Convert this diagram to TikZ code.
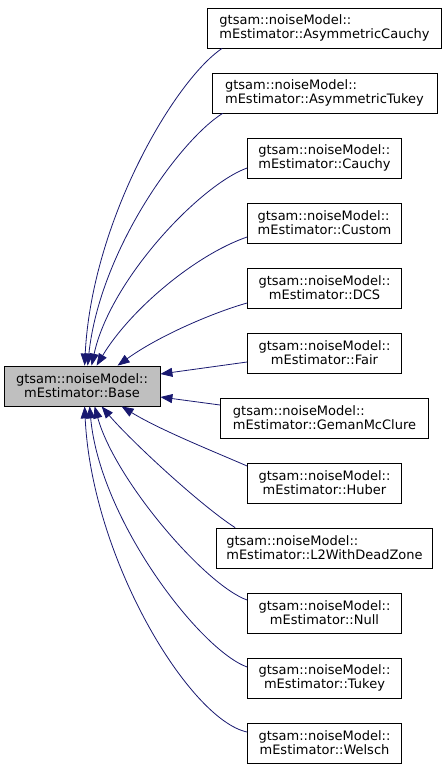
\documentclass[tikz,border=0pt]{standalone}
\usepackage{fontspec}
\setmainfont{DejaVu Sans}
\usetikzlibrary{arrows.meta}
\definecolor{edgecol}{HTML}{191970}
\definecolor{basefill}{HTML}{BFBFBF}
\newsavebox\lbA
\newsavebox\lbB
\newcommand\dlab[2]{\sbox\lbA{#1}\sbox\lbB{#2}\ifdim\wd\lbA<\wd\lbB\makebox[\wd\lbB][l]{#1}\else#1\fi\\#2}
\tikzset{
  cls/.style={draw=black, line width=0.8pt, fill=white, inner sep=0pt, minimum height=40pt, align=center, font=\fontsize{13}{14}\selectfont},
  edge/.style={draw=edgecol, line width=0.8pt, -{Triangle[length=12pt,width=9pt]}},
}
\begin{document}
\begin{tikzpicture}[x=1pt,y=1pt]
\useasboundingbox (0,0) rectangle (447,-771);
\node[cls, fill=basefill, minimum width=156pt] (base) at (82,-386) {\dlab{gtsam::noiseModel::}{mEstimator::Base}};
\node[cls, minimum width=234pt] (ac) at (324.5,-28) {\dlab{gtsam::noiseModel::}{mEstimator::AsymmetricCauchy}};
\node[cls, minimum width=225pt] (at) at (324.5,-93) {\dlab{gtsam::noiseModel::}{mEstimator::AsymmetricTukey}};
\node[cls, minimum width=154pt] (cauchy) at (324.5,-158) {\dlab{gtsam::noiseModel::}{mEstimator::Cauchy}};
\node[cls, minimum width=154pt] (custom) at (324.5,-223) {\dlab{gtsam::noiseModel::}{mEstimator::Custom}};
\node[cls, minimum width=154pt] (dcs) at (324.5,-288) {\dlab{gtsam::noiseModel::}{mEstimator::DCS}};
\node[cls, minimum width=154pt] (fair) at (324.5,-353) {\dlab{gtsam::noiseModel::}{mEstimator::Fair}};
\node[cls, minimum width=208pt] (gmc) at (324.5,-418) {\dlab{gtsam::noiseModel::}{mEstimator::GemanMcClure}};
\node[cls, minimum width=154pt] (huber) at (324.5,-483) {\dlab{gtsam::noiseModel::}{mEstimator::Huber}};
\node[cls, minimum width=216pt] (l2) at (324.5,-548) {\dlab{gtsam::noiseModel::}{mEstimator::L2WithDeadZone}};
\node[cls, minimum width=154pt] (null) at (324.5,-613) {\dlab{gtsam::noiseModel::}{mEstimator::Null}};
\node[cls, minimum width=154pt] (tukey) at (324.5,-678) {\dlab{gtsam::noiseModel::}{mEstimator::Tukey}};
\node[cls, minimum width=154pt] (welsch) at (324.5,-743) {\dlab{gtsam::noiseModel::}{mEstimator::Welsch}};

\draw[edge] ([xshift=15pt]ac.south west) .. controls (175,-80) and (92,-220) .. ([xshift=81pt]base.north west);
\draw[edge] ([xshift=11pt]at.south west) .. controls (180,-140) and (100,-250) .. ([xshift=84pt]base.north west);
\draw[edge] ([yshift=-10pt]cauchy.west) .. controls (200,-185) and (110,-280) .. ([xshift=88pt]base.north west);
\draw[edge] ([yshift=-14pt]custom.west) .. controls (195,-255) and (130,-310) .. ([xshift=93pt]base.north west);
\draw[edge] ([yshift=-15pt]dcs.west) .. controls (215,-312) and (160,-335) .. ([xshift=114pt]base.north west);
\draw[edge] ([yshift=-9pt]fair.west) -- ([yshift=12pt]base.east);
\draw[edge] ([yshift=13pt]gmc.west) -- ([yshift=-11pt]base.east);
\draw[edge] ([yshift=17pt]huber.west) .. controls (215,-452) and (160,-430) .. ([xshift=118pt]base.south west);
\draw[edge] ([xshift=19pt]l2.north west) .. controls (200,-505) and (130,-440) .. ([xshift=98pt]base.south west);
\draw[edge] ([yshift=13pt]null.west) .. controls (205,-585) and (115,-480) .. ([xshift=91pt]base.south west);
\draw[edge] ([yshift=11pt]tukey.west) .. controls (200,-650) and (100,-520) .. ([xshift=86pt]base.south west);
\draw[edge] ([yshift=11pt]welsch.west) .. controls (190,-720) and (92,-560) .. ([xshift=81pt]base.south west);
\end{tikzpicture}
\end{document}
